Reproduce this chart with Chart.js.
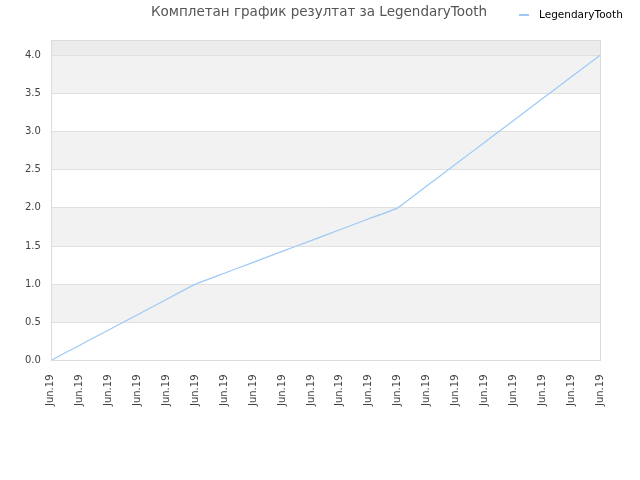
<!DOCTYPE html>
<html>
<head>
<meta charset="utf-8">
<script src="https://cdn.jsdelivr.net/npm/chart.js@4/dist/chart.umd.min.js"></script>
<style>
    html, body { margin: 0; padding: 0; background: #fff; }
    #wrap { width: 640px; height: 480px; }
</style>
</head>
<body>
<div id="wrap"><canvas id="grafico" width="640" height="480"></canvas></div>
<script>
// Dados
const titulo = 'Комплетан график резултат за LegendaryTooth';
const serieNome = 'LegendaryTooth';
const rotulos = ['Jun.19', 'Jun.19', 'Jun.19', 'Jun.19', 'Jun.19', 'Jun.19', 'Jun.19', 'Jun.19', 'Jun.19', 'Jun.19',
    'Jun.19', 'Jun.19', 'Jun.19', 'Jun.19', 'Jun.19', 'Jun.19', 'Jun.19', 'Jun.19', 'Jun.19', 'Jun.19'];
const valores = [0, 0.2, 0.4, 0.6, 0.8, 1.0, 1.143, 1.286, 1.429, 1.571, 1.714, 1.857, 2.0, 2.286, 2.571, 2.857, 3.143, 3.429, 3.714, 4.0];
const eixoY = { min: 0, max: 4.2, passo: 0.5 };

const corLinha = '#9ec9f5';
const fonte = '"DejaVu Sans", sans-serif';

// Faixas alternadas de fundo + borda da área do gráfico
const faixasPlugin = {
    id: 'faixas',
    beforeDraw(chart) {
        const { ctx, chartArea: a, scales: { y } } = chart;
        ctx.save();
        for (let v = eixoY.min; v < eixoY.max; v += eixoY.passo) {
            const topo = Math.min(v + eixoY.passo, eixoY.max);
            const i = Math.round(v / eixoY.passo);
            let cor = i % 2 === 1 ? '#f2f2f2' : '#ffffff';
            if (topo - v < eixoY.passo - 1e-9) cor = '#ececec';
            ctx.fillStyle = cor;
            const y1 = y.getPixelForValue(topo);
            const y0 = y.getPixelForValue(v);
            ctx.fillRect(a.left, y1, a.right - a.left, y0 - y1);
        }
        ctx.restore();
    },
    afterDraw(chart) {
        const { ctx, chartArea: a } = chart;
        ctx.save();
        ctx.strokeStyle = '#dcdcdc';
        ctx.lineWidth = 1;
        ctx.strokeRect(Math.round(a.left) + 0.5, Math.round(a.top) + 0.5,
            Math.round(a.right - a.left), Math.round(a.bottom - a.top));
        ctx.restore();
    }
};

// Título e legenda na mesma linha
const cabecalhoPlugin = {
    id: 'cabecalho',
    afterDraw(chart) {
        const { ctx } = chart;
        ctx.save();
        ctx.textBaseline = 'middle';
        ctx.font = '13.5px ' + fonte;
        ctx.fillStyle = '#555555';
        ctx.textAlign = 'center';
        ctx.fillText(titulo, 319, 12);

        const ds = chart.data.datasets[0];
        ctx.strokeStyle = ds.borderColor;
        ctx.lineWidth = 2;
        ctx.beginPath();
        ctx.moveTo(519, 15);
        ctx.lineTo(529, 15);
        ctx.stroke();
        ctx.font = '10.5px ' + fonte;
        ctx.fillStyle = '#000000';
        ctx.textAlign = 'left';
        ctx.fillText(ds.label, 539, 15);
        ctx.restore();
    }
};

new Chart(document.getElementById('grafico'), {
    type: 'line',
    data: {
        labels: rotulos,
        datasets: [{
            label: serieNome,
            data: valores,
            borderColor: corLinha,
            backgroundColor: corLinha,
            borderWidth: 1.2,
            pointRadius: 0,
            tension: 0.1,
            fill: false
        }]
    },
    options: {
        responsive: false,
        animation: false,
        layout: { padding: { top: 40, right: 40, left: 15, bottom: 68 } },
        plugins: {
            legend: { display: false },
            title: { display: false },
            tooltip: { enabled: false }
        },
        scales: {
            x: {
                offset: false,
                grid: { display: false },
                border: { display: false },
                ticks: {
                    autoSkip: false,
                    minRotation: 90,
                    maxRotation: 90,
                    color: '#444444',
                    padding: 6,
                    font: { family: fonte, size: 10 }
                }
            },
            y: {
                min: eixoY.min,
                max: eixoY.max,
                afterBuildTicks(scale) {
                    scale.ticks = scale.ticks.filter(t => Math.abs(t.value / eixoY.passo - Math.round(t.value / eixoY.passo)) < 1e-9);
                },
                grid: { color: '#e0e0e0', drawTicks: false },
                border: { display: false },
                ticks: {
                    stepSize: eixoY.passo,
                    color: '#444444',
                    padding: 10,
                    font: { family: fonte, size: 10 },
                    callback: v => Number(v).toFixed(1)
                }
            }
        }
    },
    plugins: [faixasPlugin, cabecalhoPlugin]
});
</script>
</body>
</html>
